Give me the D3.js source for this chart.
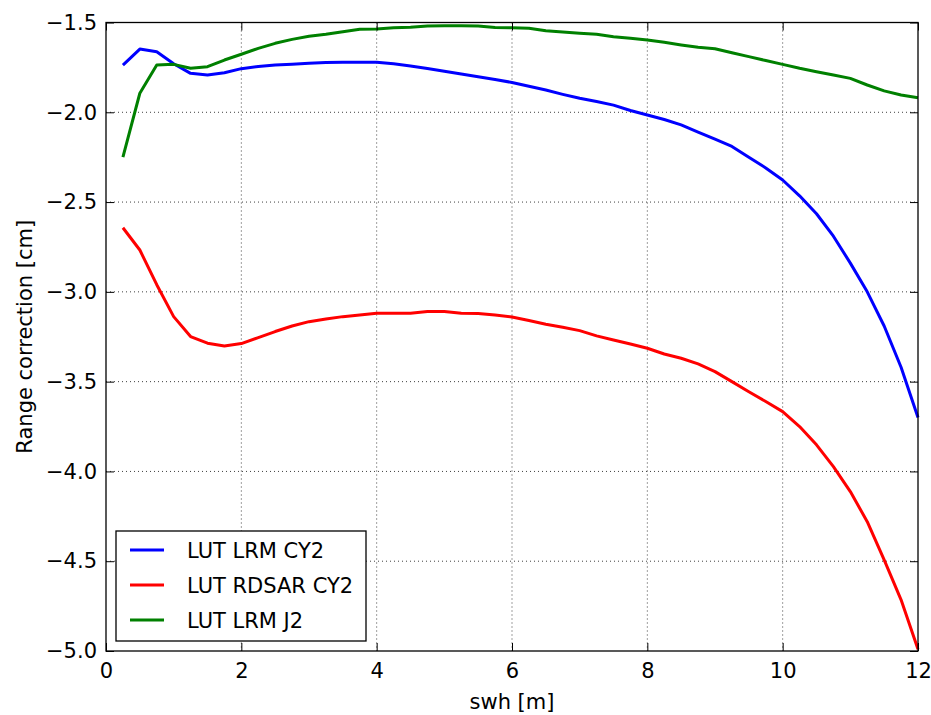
<!DOCTYPE html>
<html><head><meta charset="utf-8">
<script src="https://cdn.jsdelivr.net/npm/d3@7"></script>
<style>body{margin:0;background:#fff}svg{display:block}text{font-family:"DejaVu Sans",sans-serif;fill:#000}</style>
</head><body>
<svg id="chart" width="931" height="715"></svg>
<script>
const swh = [0.25,0.5,0.75,1.0,1.25,1.5,1.75,2.0,2.25,2.5,2.75,3.0,3.25,3.5,3.75,4.0,4.25,4.5,4.75,5.0,5.25,5.5,5.75,6.0,6.25,6.5,6.75,7.0,7.25,7.5,7.75,8.0,8.25,8.5,8.75,9.0,9.25,9.5,9.75,10.0,10.25,10.5,10.75,11.0,11.25,11.5,11.75,12.0];
const lutLrmCy2 = [-1.737,-1.648,-1.663,-1.73,-1.783,-1.792,-1.78,-1.757,-1.745,-1.737,-1.732,-1.727,-1.723,-1.722,-1.722,-1.722,-1.73,-1.742,-1.756,-1.772,-1.787,-1.802,-1.817,-1.834,-1.855,-1.876,-1.9,-1.922,-1.94,-1.96,-1.99,-2.015,-2.04,-2.07,-2.11,-2.15,-2.19,-2.25,-2.31,-2.377,-2.465,-2.565,-2.69,-2.84,-3.0,-3.19,-3.42,-3.70];
const lutRdsarCy2 = [-2.643,-2.767,-2.96,-3.138,-3.249,-3.286,-3.301,-3.288,-3.255,-3.221,-3.19,-3.166,-3.151,-3.138,-3.129,-3.119,-3.119,-3.119,-3.11,-3.11,-3.119,-3.12,-3.129,-3.14,-3.16,-3.18,-3.197,-3.216,-3.245,-3.268,-3.29,-3.314,-3.346,-3.37,-3.401,-3.444,-3.5,-3.556,-3.611,-3.667,-3.75,-3.852,-3.973,-4.112,-4.28,-4.493,-4.715,-4.99];
const lutLrmJ2 = [-2.25,-1.894,-1.737,-1.733,-1.755,-1.746,-1.709,-1.677,-1.644,-1.616,-1.594,-1.577,-1.566,-1.551,-1.538,-1.536,-1.529,-1.527,-1.52,-1.518,-1.518,-1.52,-1.528,-1.529,-1.532,-1.546,-1.553,-1.56,-1.566,-1.579,-1.588,-1.597,-1.61,-1.625,-1.638,-1.646,-1.668,-1.69,-1.712,-1.733,-1.755,-1.774,-1.792,-1.811,-1.848,-1.881,-1.904,-1.919];
const seriesNames = ["LUT LRM CY2","LUT RDSAR CY2","LUT LRM J2"];
const seriesColors = ["#0000ff","#ff0000","#008000"];
const xTicks = [0,2,4,6,8,10,12];
const yTicks = [-1.5,-2.0,-2.5,-3.0,-3.5,-4.0,-4.5,-5.0];

const FS = 21;
const L=106, R=918, T=22.5, B=651;
const svg = d3.select("#chart");
const x = d3.scaleLinear().domain([0,12]).range([L,R]);
const y = d3.scaleLinear().domain([-5,-1.5]).range([B,T]);

// grid
const g = svg.append("g");
g.selectAll(".gx").data(xTicks.slice(1,-1)).join("line")
  .attr("x1",d=>x(d)).attr("x2",d=>x(d)).attr("y1",T).attr("y2",B)
  .attr("stroke","#000").attr("stroke-width",1).attr("stroke-dasharray","1,3").attr("opacity",0.75);
g.selectAll(".gy").data(yTicks.slice(1,-1)).join("line")
  .attr("x1",L).attr("x2",R).attr("y1",d=>y(d)).attr("y2",d=>y(d))
  .attr("stroke","#000").attr("stroke-width",1).attr("stroke-dasharray","1,3").attr("opacity",0.75);

// lines
const allSeries = [lutLrmCy2, lutRdsarCy2, lutLrmJ2];
const line = d3.line().x((d,i)=>x(swh[i])).y(d=>y(d));
allSeries.forEach((s,k)=>{
  svg.append("path").datum(s).attr("d",line).attr("fill","none")
    .attr("stroke",seriesColors[k]).attr("stroke-width",3).attr("stroke-linejoin","round");
});

// axes (ticks inside, all four sides)
const fmtY = d3.format(".1f");
svg.append("g").attr("transform",`translate(0,${B})`)
  .call(d3.axisBottom(x).tickValues(xTicks).tickSize(-8).tickPadding(12).tickFormat(d3.format("d")))
  .call(a=>a.select(".domain").remove())
  .call(a=>a.selectAll("text").attr("font-size",FS).attr("font-family","DejaVu Sans"));
svg.append("g").attr("transform",`translate(0,${T})`)
  .call(d3.axisTop(x).tickValues(xTicks).tickSize(-8).tickFormat(""))
  .call(a=>a.select(".domain").remove());
svg.append("g").attr("transform",`translate(${L},0)`)
  .call(d3.axisLeft(y).tickValues(yTicks).tickSize(-8).tickPadding(9).tickFormat(fmtY))
  .call(a=>a.select(".domain").remove())
  .call(a=>a.selectAll("text").attr("font-size",FS).attr("font-family","DejaVu Sans"));
svg.append("g").attr("transform",`translate(${R},0)`)
  .call(d3.axisRight(y).tickValues(yTicks).tickSize(-8).tickFormat(""))
  .call(a=>a.select(".domain").remove());

svg.append("rect").attr("x",L).attr("y",T).attr("width",R-L).attr("height",B-T)
  .attr("fill","none").attr("stroke","#000").attr("stroke-width",1.3);

// labels
svg.append("text").attr("x",(L+R)/2).attr("y",709).attr("text-anchor","middle").attr("font-size",FS).text("swh [m]");
svg.append("text").attr("transform",`translate(32,${(T+B)/2}) rotate(-90)`).attr("text-anchor","middle").attr("font-size",FS).text("Range correction [cm]");

// legend
const lg = svg.append("g");
lg.append("rect").attr("x",116).attr("y",531).attr("width",250).attr("height",110)
  .attr("fill","#fff").attr("stroke","#000").attr("stroke-width",1.3);
seriesNames.forEach((n,k)=>{
  const yy = 550 + k*35;
  lg.append("line").attr("x1",130).attr("x2",164).attr("y1",yy).attr("y2",yy)
    .attr("stroke",seriesColors[k]).attr("stroke-width",3);
  lg.append("text").attr("x",187).attr("y",yy+7.5).attr("font-size",FS).text(n);
});
</script>
</body></html>
